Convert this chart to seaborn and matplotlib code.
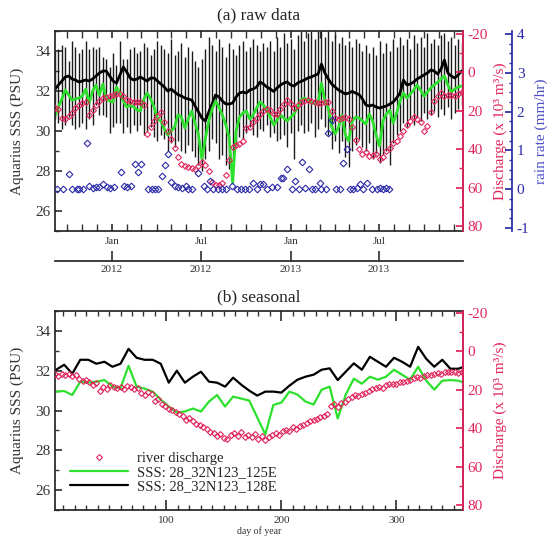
import numpy as np
import pandas as pd
import matplotlib
matplotlib.use("Agg")
import matplotlib.pyplot as plt
import matplotlib.dates as mdates
from matplotlib.ticker import MultipleLocator, NullLocator
import seaborn as sns

sns.set_theme(style="ticks")
plt.rcParams["font.family"] = ["Liberation Serif", "DejaVu Serif"]
plt.rcParams["axes.unicode_minus"] = False

# ---------------- (a) raw data: weekly samples from 2011-09-06 ----------------
start = pd.Timestamp("2011-09-06")

sss_128 = [32.1, 32.3, 32.5, 32.7, 32.75, 32.6, 32.55, 32.45, 32.5, 32.55,
           32.5, 32.6, 32.75, 32.9, 33.0, 33.0, 32.75, 32.5, 32.4, 32.8,
           33.2, 32.95, 32.65, 32.55, 32.6, 32.7, 32.6, 32.5, 32.65, 32.65,
           32.5, 32.35, 32.2, 32.0, 32.1, 31.95, 31.82, 31.75, 31.65, 31.6,
           31.55, 31.25, 30.95, 30.65, 30.5, 30.95, 31.35, 31.8, 31.7, 31.5,
           31.35, 31.35, 31.4, 31.7, 31.9, 31.95, 31.9, 32.05, 32.1, 32.2,
           32.45, 32.35, 32.2, 32.1, 31.98, 32.15, 32.3, 32.4, 32.45, 32.3,
           32.25, 32.4, 32.48, 32.55, 32.65, 32.7, 32.78, 32.85, 33.35, 32.9,
           32.6, 32.35, 32.2, 32.05, 31.95, 31.85, 31.9, 31.98, 31.9, 31.82,
           31.6, 31.3, 31.25, 31.3, 31.2, 31.15, 31.2, 31.25, 31.35, 31.45,
           31.65, 31.9, 32.55, 32.3, 32.35, 32.45, 32.6, 32.7, 32.8, 32.9,
           33.05, 33.0, 32.85, 33.1, 33.55, 32.9, 32.75, 32.65, 32.8, 33.0]

sss_125 = [30.75, 31.2, 31.6, 32.05, 31.8, 31.55, 31.6, 31.65, 31.75, 32.1,
           31.4, 32.0, 32.3, 31.8, 32.35, 31.6, 31.5, 31.45, 32.2, 31.9,
           31.5, 31.2, 31.3, 31.2, 31.05, 31.0, 31.6, 31.9, 31.6, 31.2,
           30.6, 30.5, 30.1, 29.8, 30.0, 30.2, 30.8, 30.7, 30.15, 30.6,
           31.0, 30.4, 29.8, 28.6, 29.6, 30.5, 31.1, 31.5, 31.2, 30.8,
           30.3, 29.65, 27.4, 30.0, 30.7, 30.9, 31.0, 30.6, 30.8, 31.15,
           31.45, 31.3, 31.07, 30.7, 30.3, 30.55, 30.8, 30.65, 30.5, 30.7,
           30.85, 31.2, 31.57, 31.65, 31.55, 31.45, 31.35, 31.4, 32.4, 31.5,
           31.15, 30.2, 29.85, 30.2, 30.8, 29.8, 29.5, 30.5, 30.7, 30.65,
           30.5, 30.35, 30.85, 30.5, 29.8, 29.25, 30.5, 30.85, 31.05, 30.4,
           30.9, 31.5, 31.9, 31.65, 31.85, 32.05, 32.3, 32.05, 31.75, 31.95,
           32.15, 32.3, 32.45, 32.6, 32.75, 32.3, 31.95, 32.1, 32.2, 32.25]

bar_hi = [34.0, 34.1, 34.3, 34.2, 33.5, 34.5, 34.2, 33.9, 34.1, 34.5,
          34.1, 34.2, 34.1, 34.2, 33.7, 33.6, 33.2, 33.9, 33.3, 34.5,
          33.6, 33.6, 34.1, 34.2, 33.9, 34.0, 34.4, 34.2, 33.8, 34.1,
          34.5, 34.3, 34.1, 33.9, 34.6, 33.8, 34.0, 34.4, 33.7, 34.2,
          34.0, 33.5, 33.2, 33.6, 34.1, 34.7, 34.3, 34.0, 34.6, 34.2,
          33.7, 34.4, 34.1, 33.8, 34.3, 34.5, 34.0, 34.2, 34.6, 34.3,
          34.0, 34.4, 34.2, 34.5, 34.0, 34.7, 34.2, 34.9, 34.4, 34.6,
          34.1, 34.8, 35.0, 34.5, 34.9, 35.0, 34.6, 35.0, 35.0, 34.7,
          35.0, 34.5, 34.8, 34.4, 34.7, 34.3, 34.5, 34.2, 34.6, 34.4,
          34.0, 34.3, 33.9, 34.2, 33.8, 34.5, 33.9, 34.4, 34.0, 34.6,
          34.2, 34.7, 34.3, 34.6, 34.1, 34.8, 34.4, 34.7, 34.2, 34.9,
          34.4, 34.6, 34.3, 34.8, 34.9, 34.5, 34.7, 34.3, 34.6, 34.4]

bar_lo = [30.6, 30.4, 30.1, 30.3, 30.7, 30.3, 30.1, 30.2, 30.4, 30.1,
          30.6, 30.3, 31.3, 30.8, 30.8, 30.7, 29.9, 30.2, 30.4, 30.4,
          29.9, 30.2, 29.9, 30.3, 30.0, 30.3, 29.8, 30.0, 30.2, 29.7,
          29.5, 29.8, 29.6, 29.0, 29.4, 29.2, 29.5, 29.0, 28.9, 29.3,
          29.0, 28.7, 28.3, 28.0, 28.6, 29.0, 29.6, 29.4, 28.6, 28.8,
          28.3, 28.1, 28.5, 29.3, 29.7, 29.6, 29.9, 30.2, 29.8, 29.7,
          30.1, 30.0, 30.3, 29.7, 29.9, 29.5, 29.6, 29.8, 29.2, 29.9,
          28.6, 30.0, 30.3, 29.9, 30.0, 30.4, 29.7, 30.1, 30.6, 30.2,
          29.8, 29.1, 29.5, 28.9, 29.5, 28.7, 28.2, 29.0, 29.3, 29.6,
          29.2, 29.0, 29.4, 28.6, 28.9, 28.4, 28.8, 29.0, 28.3, 29.4,
          29.8, 30.0, 30.4, 30.2, 30.6, 30.3, 30.7, 30.5, 30.9, 30.6,
          30.8, 31.0, 30.7, 31.1, 30.8, 31.2, 30.6, 30.9, 31.1, 31.3]

discharge = [18.7, 19.2, 23.5, 24.5, 22.5, 21.0, 18.5, 17.0, 16.0, 15.3,
             22.0, 19.5, 17.0, 14.8, 13.5, 12.8, 12.2, 11.8, 11.2, 11.0,
             12.5, 14.2, 15.0, 15.3, 15.2, 15.5, 17.0, 32.0, 28.5, 25.5,
             22.5, 20.5, 26.0, 30.5, 34.5, 39.5, 44.0, 47.5, 48.5, 49.2,
             49.8, 50.3, 48.5, 46.8, 48.0, 51.5, 57.0, 58.5, 58.6, 57.5,
             53.5, 45.5, 39.0, 37.8, 37.2, 35.5, 29.0, 28.2, 26.0, 23.5,
             21.5, 20.3, 19.0, 19.5, 21.5, 21.8, 19.0, 16.5, 14.5, 16.5,
             18.5, 16.8, 15.3, 14.8, 14.3, 14.8, 15.2, 15.8, 16.0, 15.5,
             15.5, 20.0, 23.5, 24.5, 23.8, 23.0, 24.5, 28.5, 35.0, 40.0,
             42.3, 41.5, 43.5, 43.0, 42.5, 45.0, 44.0, 40.8, 39.3, 37.0,
             35.5, 33.0, 30.5, 27.5, 25.3, 23.0, 24.0, 26.0, 30.7, 28.0,
             20.5, 15.0, 12.0, 10.8, 12.3, 11.8, 11.8, 12.5, 11.2, 10.0]

rain_day = [4, 16, 29, 35, 45, 50, 58, 65, 70, 77, 84, 91, 99, 106, 113, 120,
            135, 141, 148, 155, 163, 170, 176, 191, 198, 205, 212, 219, 225,
            232, 238, 246, 253, 260, 268, 273, 281, 294, 306, 311, 318, 324,
            333, 342, 350, 363, 372, 381, 389, 398, 406, 413, 420, 427, 434,
            444, 454, 463, 468, 476, 485, 492, 499, 506, 512, 520, 526, 533,
            542, 546, 555, 560, 567, 576, 583, 590, 598, 605, 611, 618, 625,
            632, 639, 649, 659, 666, 673, 678, 684]
rain_rate = [0.0, 0.0, 0.39, 0.0, 0.0, 0.0, 0.0, 1.19, 0.08, 0.02, 0.05, 0.05,
             0.12, 0.05, 0.03, 0.05, 0.44, 0.08, 0.06, 0.07, 0.65, 0.44, 0.65,
             0.0, 0.0, 0.0, 0.0, 0.34, 0.63, 0.91, 0.18, 0.08, 0.05, 0.04,
             0.08, 0.0, 0.0, 0.42, 0.08, 0.0, 0.21, 0.0, 0.0, 0.0, 0.0, 0.08,
             0.0, 0.0, 0.0, 0.0, 0.16, 0.0, 0.12, 0.12, 0.0, 0.05, 0.05, 0.29,
             0.29, 0.53, 0.0, 0.22, 0.0, 0.7, 0.03, 0.53, 0.0, 0.0, 0.16, 0.0,
             0.0, 1.45, 1.79, 0.0, 0.0, 0.67, 1.03, 0.0, 0.0, 0.03, 0.12, 0.0,
             0.16, 0.0, 0.0, 0.03, 0.0, 0.03, 0.0]

# ---------------- (b) seasonal: day of year ----------------
seas_128 = [32.05, 32.3, 31.85, 32.55, 32.55, 32.35, 32.45, 32.2, 32.35, 33.1,
            32.65, 32.55, 32.55, 32.35, 31.4, 32.0, 31.4, 31.7, 31.95, 31.45,
            31.4, 31.2, 31.65, 31.3, 31.0, 30.75, 30.95, 30.95, 30.9, 31.25,
            31.55, 31.7, 31.8, 32.05, 32.12, 31.53, 31.95, 32.37, 32.05, 32.7,
            32.45, 32.2, 32.65, 32.45, 32.2, 33.2, 32.6, 32.2, 32.55, 32.1,
            32.1, 32.25]
seas_125 = [30.95, 30.98, 30.78, 31.45, 31.4, 31.45, 31.53, 31.2, 31.12, 32.25,
            31.2, 31.1, 30.95, 30.55, 30.2, 29.9, 29.95, 30.1, 29.95, 30.45,
            30.78, 30.2, 30.7, 30.6, 30.5, 29.65, 28.8, 30.28, 30.4, 30.95,
            30.8, 30.45, 30.3, 31.05, 31.2, 29.6, 30.8, 31.6, 31.35, 31.7,
            31.55, 31.7, 32.05, 31.8, 31.55, 32.2, 31.5, 31.05, 31.5, 31.53,
            31.5, 31.35]
seas_dis = [12.0, 12.8, 11.6, 12.5, 11.9, 12.7, 12.1, 14.6, 15.3, 14.8,
            16.2, 17.4, 16.6, 20.8, 18.6, 19.8, 17.4, 18.4, 19.3, 18.7,
            19.5, 18.2, 18.5, 19.4, 19.0, 21.5, 22.8, 20.9, 22.4, 25.6,
            24.6, 27.6, 28.4, 29.9, 30.6, 31.8, 32.5, 33.6, 35.5, 34.8,
            36.4, 37.9, 38.5, 39.6, 40.3, 41.8, 42.5, 43.9, 42.8, 44.9,
            45.6, 43.3, 42.4, 43.9, 42.1, 44.6, 43.5, 44.8, 43.2, 45.4,
            44.2, 46.0, 44.7, 43.5, 42.6, 43.8, 41.7, 40.9, 41.6, 39.3,
            40.2, 38.7, 38.2, 37.3, 36.4, 35.8, 35.0, 34.2, 33.8, 32.6,
            28.2, 27.6, 29.0, 27.1, 26.3, 25.0, 23.6, 22.9, 23.4, 22.1,
            21.6, 20.4, 19.7, 19.1, 18.4, 18.9, 17.6, 17.0, 16.8, 17.2,
            16.0, 15.7, 15.2, 15.0, 14.1, 13.6, 13.9, 12.8, 12.5, 12.1,
            11.9, 11.2, 11.6, 10.8, 10.5, 11.0, 10.7, 11.3, 11.0]

red = "#e2245c"
blue = "#2a2aa8"
green = "#2de02d"
grey = "#333333"

weeks = start + pd.to_timedelta(np.arange(len(sss_128)) * 7, unit="D")
rain_dates = start + pd.to_timedelta(rain_day, unit="D")
doy_w = np.arange(4, 4 + 7 * len(seas_128), 7)
doy_d = np.arange(3, 3 + 3 * len(seas_dis), 3)


def hide_twin_spines(ax):
    for s in ["left", "top", "bottom"]:
        ax.spines[s].set_visible(False)


fig = plt.figure(figsize=(5.55, 5.47), dpi=100)

# ---------- top panel ----------
ax1 = fig.add_axes([0.0991, 0.5777, 0.7351, 0.3656])
ax1.vlines(weeks, bar_lo, bar_hi, color="#1a1a1a", lw=1.0)
sns.lineplot(x=weeks, y=sss_128, ax=ax1, color="black", lw=2.0)
sns.lineplot(x=weeks, y=sss_125, ax=ax1, color=green, lw=2.0)
ax1.set_xlim(start, start + pd.Timedelta(days=836))
ax1.set_ylim(25, 35)
ax1.xaxis.set_major_locator(mdates.MonthLocator(bymonth=[1, 7]))
ax1.xaxis.set_major_formatter(mdates.DateFormatter("%b"))
ax1.xaxis.set_minor_locator(mdates.MonthLocator())
ax1.yaxis.set_major_locator(MultipleLocator(2))
ax1.yaxis.set_minor_locator(MultipleLocator(1))
ax1.tick_params(which="both", direction="in", top=True, right=False, colors=grey)
ax1.tick_params(axis="x", which="both", length=5, labelsize=8, pad=4)
ax1.tick_params(axis="y", which="major", length=5, labelsize=11)
ax1.tick_params(axis="y", which="minor", length=3)
ax1.set_xlabel("")
ax1.set_ylabel("Aquarius SSS (PSU)", fontsize=11, color=grey)
ax1.yaxis.set_label_coords(-0.075, 0.5)

yr = ax1.secondary_xaxis(-0.15)
yr.xaxis.set_major_locator(mdates.MonthLocator(bymonth=[1, 7]))
yr.xaxis.set_major_formatter(mdates.DateFormatter("%Y"))
yr.xaxis.set_minor_locator(NullLocator())
yr.tick_params(direction="in", length=7, labelsize=8, colors=grey, pad=3)

ax1b = ax1.twinx()
sns.lineplot(x=weeks, y=discharge, ax=ax1b, color=red, marker="D", linestyle="",
             ms=3.0, mfc="none", mec=red, mew=0.8)
ax1b.set_ylim(82.6, -21.6)
ax1b.yaxis.set_major_locator(MultipleLocator(20))
ax1b.yaxis.set_minor_locator(MultipleLocator(10))
ax1b.tick_params(axis="y", which="both", direction="in", colors=red, labelsize=11)
ax1b.tick_params(axis="y", which="major", length=5)
ax1b.tick_params(axis="y", which="minor", length=3)
ax1b.spines["right"].set_color(red)
hide_twin_spines(ax1b)
ax1b.set_ylabel("Discharge (x 10³ m³/s)", color=red, fontsize=11)
ax1b.yaxis.set_label_coords(1.075, 0.5)

ax1c = ax1.twinx()
ax1c.spines["right"].set_position(("axes", 1.12))
sns.lineplot(x=rain_dates, y=rain_rate, ax=ax1c, color=blue, marker="D", linestyle="",
             ms=3.4, mfc="none", mec=blue, mew=0.8)
ax1c.set_ylim(-1.08, 4.08)
ax1c.yaxis.set_major_locator(MultipleLocator(1))
ax1c.yaxis.set_minor_locator(MultipleLocator(0.25))
ax1c.tick_params(axis="y", which="both", direction="in", colors=blue, labelsize=11)
ax1c.tick_params(axis="y", which="major", length=5)
ax1c.tick_params(axis="y", which="minor", length=2.5)
ax1c.spines["right"].set_color(blue)
hide_twin_spines(ax1c)
ax1c.set_ylabel("rain rate (mm/hr)", color="#4f4fc8", fontsize=11)
ax1c.yaxis.set_label_coords(1.175, 0.5)

# ---------- bottom panel ----------
ax2 = fig.add_axes([0.0991, 0.0676, 0.7351, 0.3638])
sns.lineplot(x=doy_w, y=seas_125, ax=ax2, color=green, lw=1.6, label="SSS: 28_32N123_125E")
sns.lineplot(x=doy_w, y=seas_128, ax=ax2, color="black", lw=1.6, label="SSS: 28_32N123_128E")
ax2.set_xlim(3, 358)
ax2.set_ylim(25, 35)
ax2.xaxis.set_major_locator(MultipleLocator(100))
ax2.xaxis.set_minor_locator(MultipleLocator(10))
ax2.yaxis.set_major_locator(MultipleLocator(2))
ax2.yaxis.set_minor_locator(MultipleLocator(1))
ax2.tick_params(which="both", direction="in", top=True, right=False, colors=grey)
ax2.tick_params(axis="x", which="major", length=7, labelsize=8, pad=4)
ax2.tick_params(axis="x", which="minor", length=3.5)
ax2.tick_params(axis="y", which="major", length=5, labelsize=11)
ax2.tick_params(axis="y", which="minor", length=3)
ax2.set_xlabel("day of year", fontsize=7, color=grey, labelpad=1)
ax2.set_ylabel("Aquarius SSS (PSU)", fontsize=11, color=grey)
ax2.yaxis.set_label_coords(-0.075, 0.5)

ax2b = ax2.twinx()
sns.lineplot(x=doy_d, y=seas_dis, ax=ax2b, color=red, marker="D", linestyle="",
             ms=3.0, mfc="none", mec=red, mew=0.8, label="river discharge")
ax2b.set_ylim(82.6, -21.0)
ax2b.yaxis.set_major_locator(MultipleLocator(20))
ax2b.yaxis.set_minor_locator(MultipleLocator(10))
ax2b.tick_params(axis="y", which="both", direction="in", colors=red, labelsize=11)
ax2b.tick_params(axis="y", which="major", length=5)
ax2b.tick_params(axis="y", which="minor", length=3)
ax2b.spines["right"].set_color(red)
hide_twin_spines(ax2b)
ax2b.set_ylabel("Discharge (x 10³ m³/s)", color=red, fontsize=11)
ax2b.yaxis.set_label_coords(1.075, 0.5)

for a in (ax1, ax1b, ax1c, ax2, ax2b):
    if a.get_legend() is not None:
        a.get_legend().remove()

h1, l1 = ax2.get_legend_handles_labels()
h2, l2 = ax2b.get_legend_handles_labels()
ax2b.legend(h2 + h1, l2 + l1, loc="lower left", bbox_to_anchor=(0.005, 0.02),
            frameon=False, fontsize=10.5, handlelength=4.0, numpoints=1,
            labelspacing=0.05, handletextpad=0.6, borderpad=0.4)

fig.text(0.4667, 1 - 15 / 547, "(a) raw data", ha="center", va="center", fontsize=12.5, color="#222222")
fig.text(0.4667, 1 - 297 / 547, "(b) seasonal", ha="center", va="center", fontsize=12.5, color="#222222")

fig.savefig("out.png", dpi=100)
